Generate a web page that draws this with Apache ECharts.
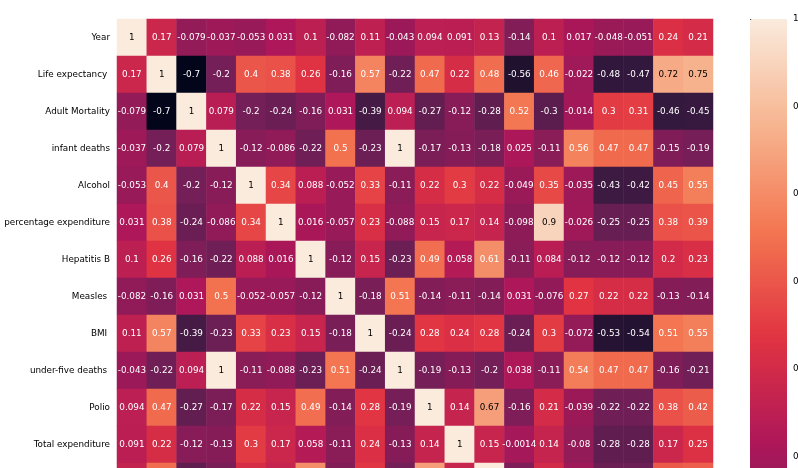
<!DOCTYPE html>
<html>
<head>
<meta charset="utf-8">
<script src="https://cdn.jsdelivr.net/npm/echarts@6/dist/echarts.min.js"></script>
<style>html,body{margin:0;padding:0;background:#fff;}#c{width:798px;height:468px;}</style>
</head>
<body>
<div id="c"></div>
<script>
const labels = ["Year", "Life expectancy ", "Adult Mortality", "infant deaths", "Alcohol", "percentage expenditure", "Hepatitis B", "Measles ", " BMI ", "under-five deaths ", "Polio", "Total expenditure", "Diphtheria ", " HIV/AIDS", "GDP", "Population", " thinness  1-19 years", " thinness 5-9 years", "Income composition of resources", "Schooling"];

const rowYear = [1, 0.17, -0.079, -0.037, -0.053, 0.031, 0.1, -0.082, 0.11, -0.043, 0.094, 0.091, 0.13, -0.14, 0.1, 0.017, -0.048, -0.051, 0.24, 0.21];
const rowLifeExp = [0.17, 1, -0.7, -0.2, 0.4, 0.38, 0.26, -0.16, 0.57, -0.22, 0.47, 0.22, 0.48, -0.56, 0.46, -0.022, -0.48, -0.47, 0.72, 0.75];
const rowAdultMort = [-0.079, -0.7, 1, 0.079, -0.2, -0.24, -0.16, 0.031, -0.39, 0.094, -0.27, -0.12, -0.28, 0.52, -0.3, -0.014, 0.3, 0.31, -0.46, -0.45];
const rowInfant = [-0.037, -0.2, 0.079, 1, -0.12, -0.086, -0.22, 0.5, -0.23, 1, -0.17, -0.13, -0.18, 0.025, -0.11, 0.56, 0.47, 0.47, -0.15, -0.19];
const rowAlcohol = [-0.053, 0.4, -0.2, -0.12, 1, 0.34, 0.088, -0.052, 0.33, -0.11, 0.22, 0.3, 0.22, -0.049, 0.35, -0.035, -0.43, -0.42, 0.45, 0.55];
const rowPctExp = [0.031, 0.38, -0.24, -0.086, 0.34, 1, 0.016, -0.057, 0.23, -0.088, 0.15, 0.17, 0.14, -0.098, 0.9, -0.026, -0.25, -0.25, 0.38, 0.39];
const rowHepB = [0.1, 0.26, -0.16, -0.22, 0.088, 0.016, 1, -0.12, 0.15, -0.23, 0.49, 0.058, 0.61, -0.11, 0.084, -0.12, -0.12, -0.12, 0.2, 0.23];
const rowMeasles = [-0.082, -0.16, 0.031, 0.5, -0.052, -0.057, -0.12, 1, -0.18, 0.51, -0.14, -0.11, -0.14, 0.031, -0.076, 0.27, 0.22, 0.22, -0.13, -0.14];
const rowBMI = [0.11, 0.57, -0.39, -0.23, 0.33, 0.23, 0.15, -0.18, 1, -0.24, 0.28, 0.24, 0.28, -0.24, 0.3, -0.072, -0.53, -0.54, 0.51, 0.55];
const rowUnder5 = [-0.043, -0.22, 0.094, 1, -0.11, -0.088, -0.23, 0.51, -0.24, 1, -0.19, -0.13, -0.2, 0.038, -0.11, 0.54, 0.47, 0.47, -0.16, -0.21];
const rowPolio = [0.094, 0.47, -0.27, -0.17, 0.22, 0.15, 0.49, -0.14, 0.28, -0.19, 1, 0.14, 0.67, -0.16, 0.21, -0.039, -0.22, -0.22, 0.38, 0.42];
const rowTotalExp = [0.091, 0.22, -0.12, -0.13, 0.3, 0.17, 0.058, -0.11, 0.24, -0.13, 0.14, 1, 0.15, -0.0014, 0.14, -0.08, -0.28, -0.28, 0.17, 0.25];
const rowDiph = [0.13, 0.48, -0.28, -0.18, 0.22, 0.14, 0.61, -0.14, 0.28, -0.2, 0.67, 0.15, 1, -0.16, 0.2, -0.028, -0.24, -0.23, 0.41, 0.43];
const rowHIV = [-0.14, -0.56, 0.52, 0.025, -0.049, -0.098, -0.11, 0.031, -0.24, 0.038, -0.16, -0.0014, -0.16, 1, -0.14, 0.0064, 0.2, 0.21, -0.25, -0.22];
const rowGDP = [0.1, 0.46, -0.3, -0.11, 0.35, 0.9, 0.084, -0.076, 0.3, -0.11, 0.21, 0.14, 0.2, -0.14, 1, -0.028, -0.29, -0.29, 0.46, 0.45];
const rowPop = [0.017, -0.022, -0.014, 0.56, -0.035, -0.026, -0.12, 0.27, -0.072, 0.54, -0.039, -0.08, -0.028, 0.0064, -0.028, 1, 0.25, 0.25, -0.0085, -0.032];
const rowThin119 = [-0.048, -0.48, 0.3, 0.47, -0.43, -0.25, -0.12, 0.22, -0.53, 0.47, -0.22, -0.28, -0.24, 0.2, -0.29, 0.25, 1, 0.94, -0.42, -0.47];
const rowThin59 = [-0.051, -0.47, 0.31, 0.47, -0.42, -0.25, -0.12, 0.22, -0.54, 0.47, -0.22, -0.28, -0.23, 0.21, -0.29, 0.25, 0.94, 1, -0.41, -0.46];
const rowIncome = [0.24, 0.72, -0.46, -0.15, 0.45, 0.38, 0.2, -0.13, 0.51, -0.16, 0.38, 0.17, 0.41, -0.25, 0.46, -0.0085, -0.42, -0.41, 1, 0.8];
const rowSchool = [0.21, 0.75, -0.45, -0.19, 0.55, 0.39, 0.23, -0.14, 0.55, -0.21, 0.42, 0.25, 0.43, -0.22, 0.45, -0.032, -0.47, -0.46, 0.8, 1];

const colorMin = -0.7;
const colorMax = 1;
const tickMin = -0.6;
const tickStep = 0.2;

const matrix = [rowYear, rowLifeExp, rowAdultMort, rowInfant, rowAlcohol, rowPctExp, rowHepB, rowMeasles, rowBMI, rowUnder5, rowPolio, rowTotalExp, rowDiph, rowHIV, rowGDP, rowPop, rowThin119, rowThin59, rowIncome, rowSchool];

const data = [];
matrix.forEach((row, y) => row.forEach((v, x) => {
  data.push({ value: [x, y, v], label: { color: v > 0.64 ? '#000000' : '#ffffff' } });
}));

const FONT = 'DejaVu Sans';
const FS = 8.8;
const rocket = ['#03051a', '#35193e', '#701f57', '#ad1759', '#e13342', '#f37651', '#f6b48f', '#faebdd'];

// colorbar geometry: bar height 744 px covers colorMin..colorMax
const barTop = 19, barH = 744;
const pxPerUnit = barH / (colorMax - colorMin);
const axisH = (colorMax - tickMin) * pxPerUnit;

const chart = echarts.init(document.getElementById('c'), null, { renderer: 'canvas' });
chart.setOption({
  backgroundColor: '#ffffff',
  animation: false,
  grid: [
    { left: 117, top: 19, width: 596, height: 740, containLabel: false, outerBoundsMode: 'none' },
    { left: 750, top: barTop, width: 37, height: axisH, containLabel: false, outerBoundsMode: 'none' }
  ],
  xAxis: [
    { type: 'category', gridIndex: 0, data: labels, position: 'bottom',
      axisLine: { show: false }, splitLine: { show: false },
      axisTick: { alignWithLabel: true, length: 3.5, lineStyle: { color: '#333' } },
      axisLabel: { rotate: 90, fontFamily: FONT, fontSize: FS, color: '#000', interval: 0 } },
    { type: 'value', gridIndex: 1, show: false, min: 0, max: 1,
      axisLine: { show: false }, axisTick: { show: false }, axisLabel: { show: false }, splitLine: { show: false } }
  ],
  yAxis: [
    { type: 'category', gridIndex: 0, data: labels, inverse: true,
      axisLine: { show: false }, splitLine: { show: false },
      axisTick: { alignWithLabel: true, length: 3.5, lineStyle: { color: '#333' } },
      axisLabel: { fontFamily: FONT, fontSize: FS, color: '#000', margin: 7, interval: 0 } },
    { type: 'value', gridIndex: 1, min: tickMin, max: colorMax, interval: tickStep, position: 'right',
      axisLine: { show: false }, splitLine: { show: false },
      axisTick: { show: true, length: 3.5, lineStyle: { color: '#333' } },
      axisLabel: { formatter: v => (Math.round(v * 10) / 10).toFixed(1), margin: 6, fontFamily: FONT, fontSize: FS, color: '#000' } }
  ],
  visualMap: {
    type: 'continuous', seriesIndex: 0, min: colorMin, max: colorMax,
    left: 750, top: barTop, itemWidth: 37, itemHeight: barH, padding: 0,
    calculable: false, orient: 'vertical', showLabel: false, hoverLink: false,
    inRange: { color: rocket },
    textStyle: { color: 'rgba(0,0,0,0)' }
  },
  series: [{
    type: 'heatmap',
    xAxisIndex: 0, yAxisIndex: 0,
    data: data,
    label: { show: true, fontFamily: FONT, fontSize: FS, formatter: p => String(p.value[2]) },
    itemStyle: { borderWidth: 0 },
    emphasis: { disabled: true }
  }]
});
</script>
</body>
</html>
